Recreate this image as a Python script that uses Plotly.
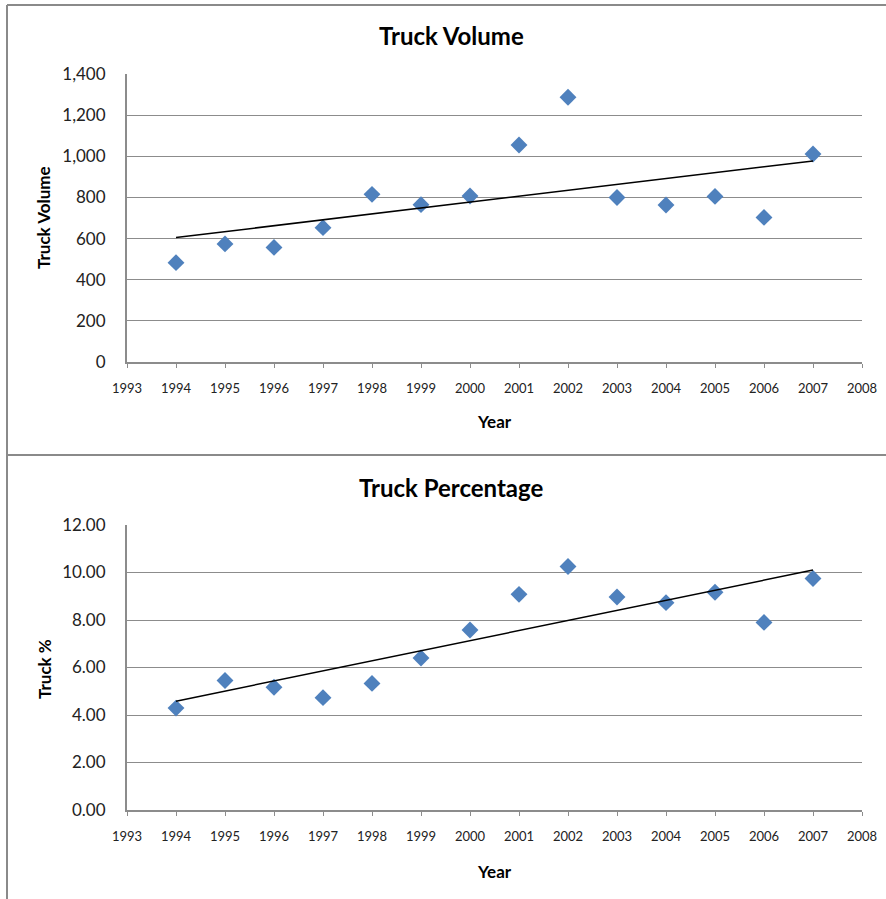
import numpy as np
import plotly.graph_objects as go

# data
years = list(range(1994, 2008))
truck_volume = [483, 574, 557, 653, 815, 765, 807, 1055, 1287, 800, 763, 805, 703, 1011]
truck_pct = [4.29, 5.45, 5.17, 4.73, 5.33, 6.40, 7.58, 9.08, 10.25, 8.97, 8.73, 9.17, 7.90, 9.75]

year_ticks = list(range(1993, 2009))
volume_ticks = [0, 200, 400, 600, 800, 1000, 1200, 1400]
pct_ticks = [0, 2, 4, 6, 8, 10, 12]

W, H = 886, 899
BLUE = "#4F81BD"
GRID = "#8c8c8c"
FONT = "Lato, 'Open Sans', sans-serif"


def px_x(x):
    return x / W


def px_y(y):
    return 1 - y / H


def trend(xs, ys):
    k, b = np.polyfit(xs, ys, 1)
    ends = [xs[0], xs[-1]]
    return ends, [k * e + b for e in ends]


fig = go.Figure()

fig.add_trace(go.Scatter(
    x=years, y=truck_volume, mode="markers",
    marker=dict(symbol="diamond", size=13, color=BLUE),
    xaxis="x", yaxis="y", showlegend=False,
))
tx, ty = trend(years, truck_volume)
fig.add_trace(go.Scatter(
    x=tx, y=ty, mode="lines", line=dict(color="black", width=1.5),
    xaxis="x", yaxis="y", showlegend=False,
))

fig.add_trace(go.Scatter(
    x=years, y=truck_pct, mode="markers",
    marker=dict(symbol="diamond", size=13, color=BLUE),
    xaxis="x2", yaxis="y2", showlegend=False,
))
tx, ty = trend(years, truck_pct)
fig.add_trace(go.Scatter(
    x=tx, y=ty, mode="lines", line=dict(color="black", width=1.5),
    xaxis="x2", yaxis="y2", showlegend=False,
))

xaxis_style = dict(
    range=[1993, 2008], tickvals=year_ticks, showgrid=False, zeroline=False,
    showline=True, linecolor=GRID, linewidth=2, automargin=False,
    ticks="outside", ticklen=4, tickcolor=GRID, tickwidth=1,
    tickfont=dict(family=FONT, size=13, color="#222"),
    ticklabelstandoff=9,
)
yaxis_style = dict(
    showgrid=True, gridcolor=GRID, gridwidth=1.3, zeroline=False,
    showline=True, linecolor=GRID, linewidth=2, ticks="", automargin=False,
    tickfont=dict(family=FONT, size=17, color="#222"),
    ticklabelstandoff=16,
)

fig.update_layout(
    template="none",
    width=W, height=H, margin=dict(l=0, r=0, t=0, b=0, pad=0),
    paper_bgcolor="white", plot_bgcolor="white",
    xaxis=dict(domain=[px_x(127), px_x(862)], anchor="y", **xaxis_style),
    yaxis=dict(domain=[px_y(362), px_y(74)], anchor="x", range=[0, 1400],
               tickvals=volume_ticks, tickformat=",", **yaxis_style),
    xaxis2=dict(domain=[px_x(127), px_x(862)], anchor="y2", **xaxis_style),
    yaxis2=dict(domain=[px_y(810), px_y(525)], anchor="x2", range=[0, 12],
                tickvals=pct_ticks, tickformat=".2f", **yaxis_style),
)

# titles and axis labels
labels = [
    ("Truck Volume", 451, 36, 24, 0),
    ("Truck Percentage", 451, 487, 24, 0),
    ("Truck Volume", 44, 218, 17, -90),
    ("Truck %", 44, 669, 17, -90),
    ("Year", 494, 422, 17, 0),
    ("Year", 494, 871, 17, 0),
]
for text, x, y, size, angle in labels:
    fig.add_annotation(
        text=f"<b>{text}</b>", x=px_x(x), y=px_y(y), xref="paper", yref="paper",
        showarrow=False, textangle=angle, xanchor="center", yanchor="middle",
        font=dict(family=FONT, size=size, color="black"),
    )

# chart frames
for x0, y0, x1, y1 in [(7, 5, 886, 5), (7, 5, 7, 899), (7, 455, 886, 455)]:
    fig.add_shape(type="line", xref="paper", yref="paper",
                  x0=px_x(x0), y0=px_y(y0), x1=px_x(x1), y1=px_y(y1),
                  line=dict(color="#8a8a8a", width=2))

# the page body has a default 8px margin; drop it so the figure sits at 0,0
fig.write_html("out.html", config={"displayModeBar": False},
               post_script="document.body.style.margin='0';")
